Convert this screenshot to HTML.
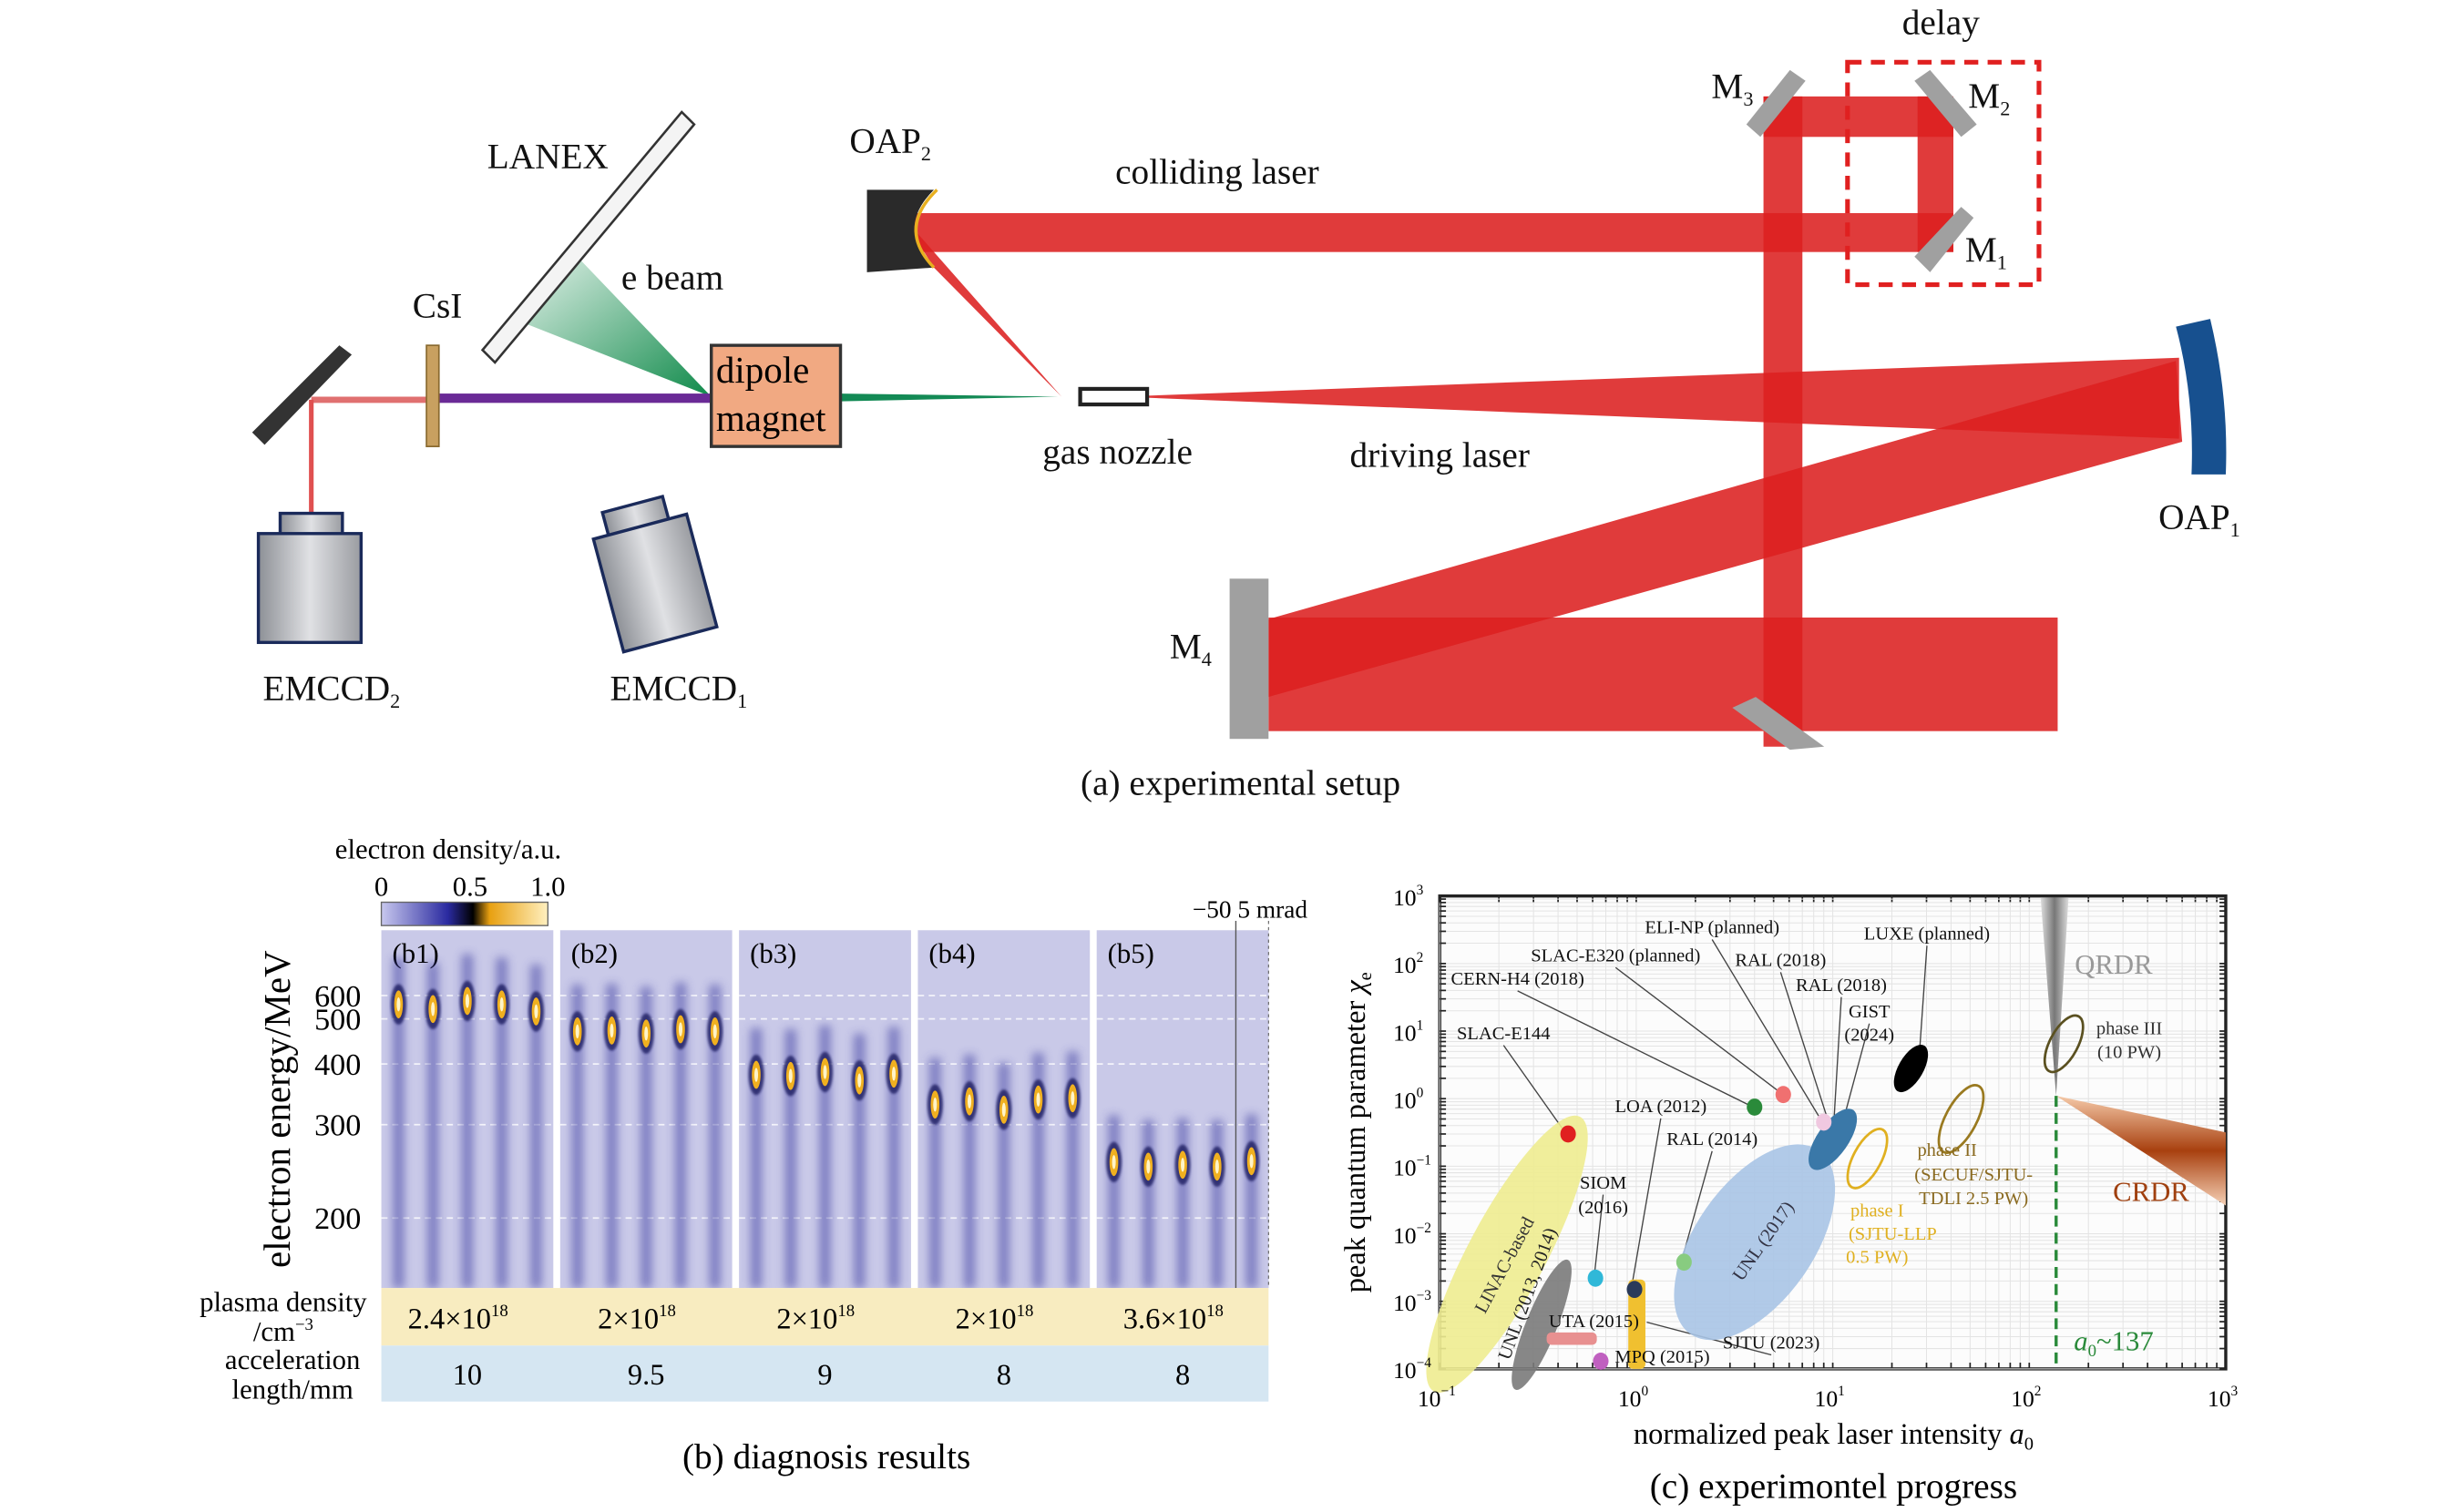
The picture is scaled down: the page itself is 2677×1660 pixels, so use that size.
<!DOCTYPE html>
<html><head><meta charset="utf-8">
<style>
html,body{margin:0;padding:0;background:#fff;}
svg{display:block;font-family:"Liberation Serif",serif;}
</style></head>
<body>
<svg id="fig" width="2677" height="1660" viewBox="0 0 1567 972" preserveAspectRatio="none" xmlns="http://www.w3.org/2000/svg">
<defs>
  <linearGradient id="gcam" x1="0" x2="1"><stop offset="0" stop-color="#8d9096"/><stop offset="0.5" stop-color="#e0e1e4"/><stop offset="1" stop-color="#9a9ca1"/></linearGradient>
  <linearGradient id="gfan" x1="1" y1="1" x2="0" y2="0"><stop offset="0" stop-color="#0f8a4a"/><stop offset="1" stop-color="#0f8a4a" stop-opacity="0.1"/></linearGradient>
  <linearGradient id="gcb" x1="0" x2="1"><stop offset="0" stop-color="#c8c8ee"/><stop offset="0.4" stop-color="#2a2aa0"/><stop offset="0.55" stop-color="#000"/><stop offset="0.65" stop-color="#e8a010"/><stop offset="1" stop-color="#fff0c0"/></linearGradient>
  <linearGradient id="gqr" x1="0" x2="1"><stop offset="0" stop-color="#ddd"/><stop offset="0.5" stop-color="#777"/><stop offset="1" stop-color="#ddd"/></linearGradient>
  <linearGradient id="gcr" x1="0" y1="0" x2="0" y2="1"><stop offset="0" stop-color="#f5c9a8"/><stop offset="0.5" stop-color="#a8400f"/><stop offset="1" stop-color="#f5d0b5"/></linearGradient>
  <filter id="blur" x="-100%" y="-10%" width="300%" height="120%"><feGaussianBlur stdDeviation="3"/></filter>
  <filter id="blur2"><feGaussianBlur stdDeviation="0.8"/></filter>
</defs>

<g id="panel-a">
  <g fill="#dc2020" fill-opacity="0.88">
    <rect x="1133" y="62" width="25" height="418"/>
    <rect x="1133" y="62" width="122" height="26"/>
    <rect x="1232" y="62" width="23" height="100"/>
    <rect x="578" y="137" width="677" height="25"/>
    <polygon points="578,137 600,172 682,255"/>
    <polygon points="720,255 1400,230 1400,282"/>
    <polygon points="1398,232 1402,284 815,448 815,398"/>
    <rect x="815" y="397" width="507" height="73"/>
  </g>
  <rect x="1187" y="40" width="123" height="143" fill="none" stroke="#e02020" stroke-width="3" stroke-dasharray="9,6"/>
  <g fill="#a0a0a0">
    <polygon points="1122,80 1150,45 1160,52 1131,88"/>
    <polygon points="1230,52 1240,45 1270,80 1260,88"/>
    <polygon points="1230,165 1260,133 1268,140 1240,175"/>
    <rect x="790" y="372" width="25" height="103"/>
    <polygon points="1113,455 1128,448 1172,480 1150,482"/>
  </g>
  <path d="M557,122 L600,122 Q575,147 600,172 L557,175 Z" fill="#2a2a2a"/>
  <path d="M602,122 Q576,147 600,172" fill="none" stroke="#e8b020" stroke-width="2"/>
  <path d="M1398,210 L1420,205 Q1432,255 1430,305 L1408,305 Q1410,255 1398,210 Z" fill="#17508f"/>
  <rect x="694" y="250" width="43" height="10" fill="#fff" stroke="#222" stroke-width="2.5"/>
  <polygon points="457,255 335,207 368,162" fill="url(#gfan)"/>
  <rect x="282" y="253" width="175" height="6" fill="#6a2a96"/>
  <polygon points="540,253 680,255 540,258" fill="#138a55"/>
  <line x1="200" y1="257" x2="280" y2="257" stroke="#e07070" stroke-width="4"/>
  <line x1="200" y1="257" x2="200" y2="330" stroke="#e05050" stroke-width="3"/>
  <polygon points="162,278 218,222 226,228 170,286" fill="#333"/>
  <rect x="274" y="222" width="8" height="65" fill="#c8a060" stroke="#8a6a30" stroke-width="1"/>
  <polygon points="310,225 438,72 446,80 318,233" fill="#f4f4f4" stroke="#333" stroke-width="1.5"/>
  <rect x="457" y="222" width="83" height="65" fill="#f1a982" stroke="#333" stroke-width="2"/>
  <text x="460" y="246" font-size="24">dipole</text>
  <text x="460" y="277" font-size="24">magnet</text>
  <rect x="180" y="330" width="40" height="14" fill="url(#gcam)" stroke="#1a2a5a" stroke-width="2"/>
  <rect x="166" y="343" width="66" height="70" fill="url(#gcam)" stroke="#1a2a5a" stroke-width="2"/>
  <g transform="rotate(-15 422 375)">
    <rect x="400" y="322" width="40" height="16" fill="url(#gcam)" stroke="#1a2a5a" stroke-width="2"/>
    <rect x="390" y="337" width="62" height="75" fill="url(#gcam)" stroke="#1a2a5a" stroke-width="2"/>
  </g>
  <g font-size="23" fill="#111" text-anchor="middle">
    <text x="1247" y="22">delay</text>
    <text x="1113" y="63">M<tspan font-size="13" dy="5">3</tspan></text>
    <text x="1278" y="69">M<tspan font-size="13" dy="5">2</tspan></text>
    <text x="1276" y="168">M<tspan font-size="13" dy="5">1</tspan></text>
    <text x="765" y="423">M<tspan font-size="13" dy="5">4</tspan></text>
    <text x="352" y="108">LANEX</text>
    <text x="432" y="186">e beam</text>
    <text x="281" y="204">CsI</text>
    <text x="572" y="98">OAP<tspan font-size="13" dy="5">2</tspan></text>
    <text x="782" y="118">colliding laser</text>
    <text x="718" y="298">gas nozzle</text>
    <text x="925" y="300">driving laser</text>
    <text x="1413" y="340">OAP<tspan font-size="13" dy="5">1</tspan></text>
    <text x="213" y="450">EMCCD<tspan font-size="13" dy="5">2</tspan></text>
    <text x="436" y="450">EMCCD<tspan font-size="13" dy="5">1</tspan></text>
    <text x="797" y="511">(a) experimental setup</text>
  </g>
</g>

<g id="panel-b">
  <text x="288" y="552" font-size="18" text-anchor="middle">electron density/a.u.</text>
  <g font-size="18" text-anchor="middle">
    <text x="245" y="576">0</text>
    <text x="302" y="576">0.5</text>
    <text x="352" y="576">1.0</text>
  </g>
  <rect x="245" y="580" width="107" height="15" fill="url(#gcb)" stroke="#666" stroke-width="0.8"/>
  <text x="840" y="590" font-size="16" text-anchor="end">−50 5 mrad</text>
  <g id="bpanels"></g>
  <g id="byaxis" font-size="20" text-anchor="end"></g>
  <text transform="translate(186,713) rotate(-90)" font-size="24" text-anchor="middle">electron energy/MeV</text>
  <rect x="245" y="828" width="570" height="37" fill="#f8ecc0"/>
  <rect x="245" y="865" width="570" height="36" fill="#d5e6f2"/>
  <g font-size="18" text-anchor="middle">
    <text x="182" y="843">plasma density</text>
    <text x="182" y="862">/cm<tspan font-size="11" dy="-7">−3</tspan></text>
    <text x="188" y="880">acceleration</text>
    <text x="188" y="899">length/mm</text>
  </g>
  <g id="brows" font-size="19" text-anchor="middle"></g>
  <text x="531" y="944" font-size="23" text-anchor="middle">(b) diagnosis results</text>
</g>

<g id="panel-c">
  <rect x="925" y="576" width="505" height="304" fill="#fcfcfc" stroke="#222" stroke-width="2"/>
  <g id="cgrid"></g>
  <g id="cmarks"></g>
  <g id="caxes" font-size="15"></g>
  <text transform="translate(877,728) rotate(-90)" font-size="19" text-anchor="middle">peak quantum parameter <tspan font-style="italic">χ</tspan><tspan font-size="12" dy="4">e</tspan></text>
  <text x="1178" y="928" font-size="19" text-anchor="middle">normalized peak laser intensity <tspan font-style="italic">a</tspan><tspan font-size="12" dy="4">0</tspan></text>
  <text x="1178" y="963" font-size="23" text-anchor="middle">(c) experimontel progress</text>
</g>

<script>
var NS = "http://www.w3.org/2000/svg";
function mk(tag, attrs, parent) {
  var e = document.createElementNS(NS, tag);
  for (var k in attrs) e.setAttribute(k, attrs[k]);
  parent.appendChild(e);
  return e;
}

var bPanelLabels = ["(b1)", "(b2)", "(b3)", "(b4)", "(b5)"];
var bPlasmaDensity = ["2.4×10", "2×10", "2×10", "2×10", "3.6×10"];
var bAccelLength = ["10", "9.5", "9", "8", "8"];
var bEnergyTicks = [600, 500, 400, 300, 200];
var bSpotEnergies = [
  [560, 540, 575, 560, 530],
  [470, 472, 465, 475, 470],
  [380, 378, 385, 370, 382],
  [330, 335, 322, 338, 340],
  [255, 250, 252, 250, 256]
];
var bTickY = [640, 655, 684, 723, 783];
function Yb(E) {
  var ln = Math.log(E);
  for (var i = 0; i < bEnergyTicks.length - 1; i++) {
    var e0 = bEnergyTicks[i], e1 = bEnergyTicks[i + 1];
    if (E <= e0 && E >= e1 || i == bEnergyTicks.length - 2) {
      var t = (Math.log(e0) - ln) / (Math.log(e0) - Math.log(e1));
      return bTickY[i] + t * (bTickY[i + 1] - bTickY[i]);
    }
  }
  return bTickY[0];
}
var bp = document.getElementById("bpanels");
var bx0 = 245, bw = 110.5, bgap = 4.4, btop = 598, bbot = 828;
for (var p = 0; p < 5; p++) {
  var px = bx0 + p * (bw + bgap);
  var bg = mk("rect", {x: px, y: btop, width: bw, height: bbot - btop, fill: "#c9c9e8"}, bp);
  
  
  for (var t = 0; t < bEnergyTicks.length; t++) {
    mk("line", {x1: px, x2: px + bw, y1: Yb(bEnergyTicks[t]), y2: Yb(bEnergyTicks[t]), stroke: "#ffffff", "stroke-width": 1, "stroke-dasharray": "4,3", opacity: 0.8}, bp);
  }
  var lab = mk("text", {x: px + 7, y: btop + 21, "font-size": 18}, bp);
  lab.textContent = bPanelLabels[p];
  
  
  for (var s = 0; s < 5; s++) {
    var sx = px + bw * (0.1 + s * 0.2);
    var sy = Yb(bSpotEnergies[p][s]);
    var st = mk("rect", {x: sx - 3.5, y: sy - 30, width: 7, height: bbot - sy + 30, fill: "#3a3aa0", opacity: 0.55, filter: "url(#blur)"}, bp);
    
    
    mk("ellipse", {cx: sx, cy: sy, rx: 5, ry: 13, fill: "#1a1a60", opacity: 0.8, filter: "url(#blur2)"}, bp);
    var sp = mk("ellipse", {cx: sx, cy: sy, rx: 2.8, ry: 9, fill: "#f0b020"}, bp);
    
    
    mk("ellipse", {cx: sx, cy: sy, rx: 1.2, ry: 4.5, fill: "#fff4c8"}, bp);
  }
  var r1 = mk("text", {x: px + bw / 2 - 6, y: 854}, document.getElementById("brows"));
  r1.textContent = bPlasmaDensity[p];
  mk("tspan", {"font-size": 11, dy: -8}, r1).textContent = "18";
  
  
  var r2 = mk("text", {x: px + bw / 2, y: 890}, document.getElementById("brows"));
  r2.textContent = bAccelLength[p];
  
  
}
mk("line", {x1: 794, x2: 794, y1: 592, y2: 828, stroke: "#555", "stroke-width": 0.8}, bp);
mk("line", {x1: 815, x2: 815, y1: 592, y2: 828, stroke: "#555", "stroke-width": 0.6, "stroke-dasharray": "2,2"}, bp);
var by = document.getElementById("byaxis");
for (var t = 0; t < bEnergyTicks.length; t++) {
  var tx = mk("text", {x: 232, y: Yb(bEnergyTicks[t]) + 7}, by);
  tx.textContent = bEnergyTicks[t];
  
  
}

var cXTickExp = [-1, 0, 1, 2, 3];
var cYTickExp = [-4, -3, -2, -1, 0, 1, 2, 3];
var cDotNames = ["SLAC-E144", "CERN-H4", "SLAC-E320", "RAL2018a", "LOA", "SIOM", "RAL2014", "MPQ"];
var cDotA = [0.45, 4.0, 5.6, 9.0, 0.98, 0.62, 1.75, 0.66];
var cDotChi = [0.30, 0.75, 1.15, 0.45, 0.0015, 0.0022, 0.0038, 0.00013];
var cDotColor = ["#e02020", "#2a8a3a", "#f07070", "#f0c8e0", "#2a3a5a", "#30b8d8", "#88cc80", "#c060c0"];
var cEllNames = ["LINAC-based", "UNL (2013, 2014)", "UNL (2017)", "RAL-GIST", "LUXE", "phase I", "phase II", "phase III"];
var cEllA = [0.22, 0.33, 4.0, 10.0, 25.0, 15.0, 45.0, 150.0];
var cEllChi = [0.0050, 0.00045, 0.0075, 0.25, 2.8, 0.13, 0.5, 6.5];
var cEllStyle = ["#eeec90", "#7a7a7a", "#a8c4e6", "#3a78a8", "#000000", "none", "none", "none"];
var cEllStroke = ["none", "none", "none", "none", "none", "#e0b020", "#9a7a20", "#5a5020"];
var cEllSize = [[100, 25], [45, 10], [72, 38], [23, 10], [17, 8], [21, 9], [24, 10], [20, 9]];
var cEllRot = [-62, -68, -55, -55, -60, -62, -62, -62];
var cA0Crit = 137;

function Xc(a) { return 925 + (Math.log10(a) + 1) * 126.25; }
function Yc(c) { return 880 - (Math.log10(c) + 4) * 43.43; }

var cg = document.getElementById("cgrid");
for (var e = -1; e < 3; e++) for (var m = 1; m < 10; m++) {
  var gx = Xc(m * Math.pow(10, e));
  mk("line", {x1: gx, x2: gx, y1: 576, y2: 880, stroke: "#e4e4e4", "stroke-width": 0.6}, cg);
  mk("line", {x1: gx, x2: gx, y1: 876, y2: 880, stroke: "#222", "stroke-width": 1}, cg);
  mk("line", {x1: gx, x2: gx, y1: 576, y2: 580, stroke: "#222", "stroke-width": 1}, cg);
}
for (var e = -4; e < 3; e++) for (var m = 1; m < 10; m++) {
  var gy = Yc(m * Math.pow(10, e));
  mk("line", {x1: 925, x2: 1430, y1: gy, y2: gy, stroke: "#e4e4e4", "stroke-width": 0.6}, cg);
  mk("line", {x1: 925, x2: 929, y1: gy, y2: gy, stroke: "#222", "stroke-width": 1}, cg);
  mk("line", {x1: 1426, x2: 1430, y1: gy, y2: gy, stroke: "#222", "stroke-width": 1}, cg);
}

var cm = document.getElementById("cmarks");
var xc = Xc(cA0Crit), yc = Yc(1.1);
var q = mk("polygon", {points: (xc - 10) + ",577 " + (xc + 8) + ",577 " + xc + "," + yc, fill: "url(#gqr)"}, cm);


var cr = mk("polygon", {points: xc + "," + yc + " 1430,728 1430,775", fill: "url(#gcr)"}, cm);


var gl = mk("line", {x1: xc, x2: xc, y1: yc, y2: 880, stroke: "#2a8a3a", "stroke-width": 2, "stroke-dasharray": "7,4"}, cm);



var cLabels = [
  ["ELI-NP (planned)", 1100, 600, 1170, 720],
  ["LUXE (planned)", 1238, 604, 1233, 680],
  ["SLAC-E320 (planned)", 1038, 618, 1146, 704],
  ["RAL (2018)", 1144, 621, 1175, 722],
  ["CERN-H4 (2018)", 975, 633, 1127, 712],
  ["RAL (2018)", 1183, 637, 1178, 725],
  ["GIST", 1201, 654, 1183, 725],
  ["(2024)", 1201, 669, null, null],
  ["SLAC-E144", 966, 668, 1007, 730],
  ["LOA (2012)", 1067, 715, 1048, 829],
  ["RAL (2014)", 1100, 736, 1080, 812],
  ["SIOM", 1030, 764, 1024, 823],
  ["(2016)", 1030, 780, null, null],
  ["UTA (2015)", 1024, 853, null, null],
  ["SJTU (2023)", 1138, 867, 1058, 850],
  ["MPQ (2015)", 1068, 876, null, null]
];
for (var i = 0; i < cLabels.length; i++) {
  var L = cLabels[i];
  if (L[3] !== null) {
    var ll = mk("line", {x1: L[1], x2: L[3], y1: L[2] + 4, y2: L[4], stroke: "#444", "stroke-width": 0.8}, cm);
    
    
  }
}

for (var i = 0; i < cEllNames.length; i++) {
  var el = mk("ellipse", {cx: Xc(cEllA[i]), cy: Yc(cEllChi[i]), rx: cEllSize[i][0], ry: cEllSize[i][1],
    fill: cEllStyle[i], stroke: cEllStroke[i], "stroke-width": 1.6, opacity: i < 3 ? 0.9 : 1,
    transform: "rotate(" + cEllRot[i] + " " + Xc(cEllA[i]) + " " + Yc(cEllChi[i]) + ")"}, cm);
  
  
}
var sj = mk("rect", {x: Xc(0.98) - 4, y: Yc(0.0021), width: 11, height: Yc(0.0001) - Yc(0.0021), rx: 3, fill: "#f0c030"}, cm);


var ut = mk("rect", {x: Xc(0.35), y: Yc(0.00028) - 4, width: Xc(0.63) - Xc(0.35), height: 8, rx: 3, fill: "#e89090"}, cm);


for (var i = 0; i < cDotNames.length; i++) {
  var d = mk("ellipse", {cx: Xc(cDotA[i]), cy: Yc(cDotChi[i]), rx: 5, ry: 5.5, fill: cDotColor[i]}, cm);
  
  
}
for (var i = 0; i < cLabels.length; i++) {
  var L = cLabels[i];
  var tt = mk("text", {x: L[1], y: L[2], "font-size": 12, "text-anchor": "middle", fill: "#111"}, cm);
  tt.textContent = L[0];
  
  
}
var extra = [
  ["LINAC-based", 970, 815, -62, "#333", 12],
  ["UNL (2013, 2014)", 985, 833, -70, "#222", 12],
  ["UNL (2017)", 1136, 800, -55, "#334", 12],
  ["QRDR", 1358, 626, 0, "#999", 18],
  ["CRDR", 1382, 772, 0, "#a0400f", 18],
  ["phase III", 1368, 665, 0, "#333", 12],
  ["(10 PW)", 1368, 680, 0, "#333", 12],
  ["phase II", 1251, 743, 0, "#8a6a20", 12],
  ["(SECUF/SJTU-", 1268, 759, 0, "#8a6a20", 12],
  ["TDLI 2.5 PW)", 1268, 774, 0, "#8a6a20", 12],
  ["phase I", 1206, 782, 0, "#e0b020", 12],
  ["(SJTU-LLP", 1216, 797, 0, "#e0b020", 12],
  ["0.5 PW)", 1206, 812, 0, "#e0b020", 12]
];
for (var i = 0; i < extra.length; i++) {
  var E = extra[i];
  var et = mk("text", {x: E[1], y: E[2], "font-size": E[5], "text-anchor": "middle", fill: E[4], transform: "rotate(" + E[3] + " " + E[1] + " " + E[2] + ")"}, cm);
  et.textContent = E[0];
  
  
}
var a0t = mk("text", {x: 1358, y: 868, "font-size": 18, "text-anchor": "middle", fill: "#2a8a3a"}, cm);


mk("tspan", {"font-style": "italic"}, a0t).textContent = "a";
mk("tspan", {"font-size": 11, dy: 4}, a0t).textContent = "0";
mk("tspan", {dy: -4}, a0t).textContent = "~137";

var ca = document.getElementById("caxes");
for (var i = 0; i < cXTickExp.length; i++) {
  var xt = mk("text", {x: Xc(Math.pow(10, cXTickExp[i])) - 2, y: 904, "text-anchor": "middle"}, ca);
  xt.textContent = "10";
  mk("tspan", {"font-size": 9, dy: -7}, xt).textContent = cXTickExp[i] < 0 ? "−" + (-cXTickExp[i]) : cXTickExp[i];
  
  
}
for (var i = 0; i < cYTickExp.length; i++) {
  var yt = mk("text", {x: 895, y: Yc(Math.pow(10, cYTickExp[i])) + 6, "text-anchor": "start"}, ca);
  yt.textContent = "10";
  mk("tspan", {"font-size": 9, dy: -7}, yt).textContent = cYTickExp[i] < 0 ? "−" + (-cYTickExp[i]) : cYTickExp[i];
  
  
}
</script>
</body></html>
